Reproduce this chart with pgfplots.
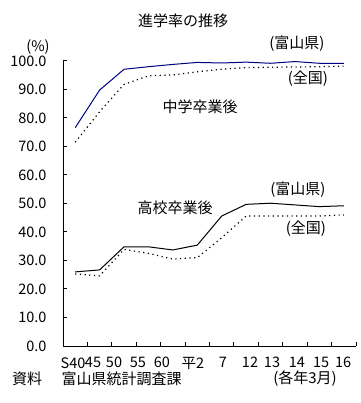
\documentclass[border=0pt]{standalone}
\usepackage{fontspec}
\setmainfont{Noto Sans CJK JP}
\setsansfont{Noto Sans CJK JP}
\usepackage{pgfplots}
\pgfplotsset{compat=1.18}
\definecolor{navyline}{RGB}{0,0,128}
\newcommand{\tf}{\fontsize{14.5bp}{16bp}\selectfont}
\newcommand{\cf}{\fontsize{15bp}{16bp}\selectfont}
\begin{document}
\begin{tikzpicture}[x=1bp,y=1bp]
\useasboundingbox (0,0) rectangle (361,403);
\begin{axis}[
  at={(63bp,57bp)}, anchor=south west, scale only axis,
  width=293bp, height=285bp,
  xmin=0, xmax=12, ymin=0, ymax=100,
  axis x line=bottom, axis y line=left,
  axis line style={-, line width=1bp, black},
  tick align=inside, major tick length=4bp,
  tick style={black, line width=1bp},
  xtick={0,1,...,12}, xticklabels={},
  extra x ticks={0.41,1.23,2.09,3.07,4.05,5.32,6.55,7.66,8.56,9.58,10.57,11.47},
  extra x tick labels={S40,45,50,55,60,平2,7,12,13,14,15,16},
  extra x tick style={major tick length=0pt, tick style={draw=none},
     xticklabel style={font=\tf, yshift=-11bp, inner sep=0pt}},
  ytick={0,10,...,100},
  yticklabel style={font=\tf, xshift=-13bp, /pgf/number format/.cd, fixed, fixed zerofill, precision=1, assume math mode=true},
  clip=false,
]
\addplot[navyline, line width=1bp] coordinates {
 (0.5,76.6)(1.5,89.8)(2.5,97.1)(3.5,98.0)(4.5,98.8)(5.5,99.5)
 (6.5,99.3)(7.5,99.6)(8.5,99.2)(9.5,99.8)(10.5,99.2)(11.5,99.2)};
\addplot[black, line width=1.2bp, dash pattern=on 1.2bp off 3.5bp] coordinates {
 (0.5,71.5)(1.5,82.2)(2.5,91.8)(3.5,94.8)(4.5,95.1)(5.5,96.2)
 (6.5,97.1)(7.5,97.7)(8.5,97.8)(9.5,97.9)(10.5,98.0)(11.5,98.2)};
\addplot[black, line width=1bp] coordinates {
 (0.5,26.0)(1.5,26.7)(2.5,34.8)(3.5,34.8)(4.5,33.7)(5.5,35.4)
 (6.5,45.6)(7.5,49.7)(8.5,50.1)(9.5,49.5)(10.5,48.9)(11.5,49.2)};
\addplot[black, line width=1.2bp, dash pattern=on 1.2bp off 3.5bp] coordinates {
 (0.5,25.3)(1.5,24.6)(2.5,33.9)(3.5,32.5)(4.5,30.5)(5.5,31.0)
 (6.5,38.0)(7.5,45.6)(8.5,45.6)(9.5,45.6)(10.5,45.6)(11.5,46.0)};
\end{axis}
\node[font=\cf] at (183,382) {進学率の推移};
\node[font=\tf] at (38,356) {(\%)};
\node[font=\cf] at (297,359) {(富山県)};
\node[font=\cf] at (308,324) {(全国)};
\node[font=\cf] at (200,296) {中学卒業後};
\node[font=\cf] at (175,195) {高校卒業後};
\node[font=\cf] at (298,213) {(富山県)};
\node[font=\cf] at (306,174) {(全国)};
\node[font=\cf, anchor=west, inner sep=0pt] at (12,24) {資料\hspace{1.3em}富山県統計調査課};
\node[font=\cf] at (305,24) {(各年3月)};
\end{tikzpicture}
\end{document}
